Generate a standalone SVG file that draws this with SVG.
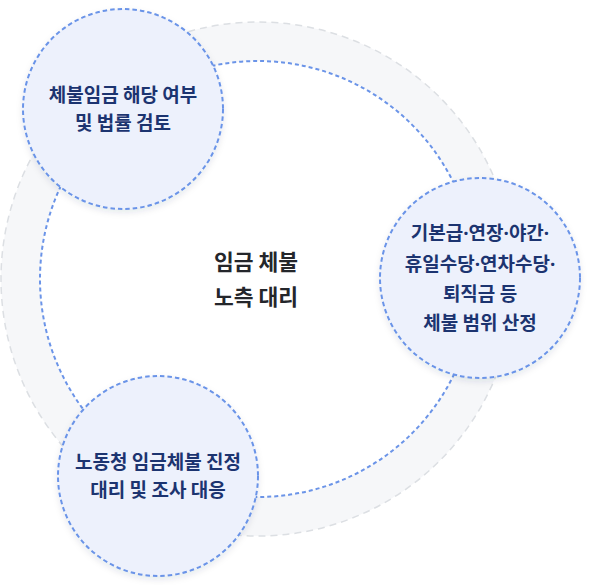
<svg xmlns="http://www.w3.org/2000/svg" width="589" height="585" viewBox="0 0 589 585">
  <defs>
    <filter id="sh" x="-20%" y="-20%" width="140%" height="150%">
      <feDropShadow dx="0" dy="3" stdDeviation="3" flood-color="#1e2a50" flood-opacity="0.10"/>
    </filter>
  </defs>
  <style>
    .band { fill: #f6f7f9; stroke: #dcdfe3; stroke-width: 1.5; stroke-dasharray: 7 5; }
    .inner { fill: #ffffff; stroke: #6b94e8; stroke-width: 2; stroke-dasharray: 4 3; }
    .node { fill: #edf1fc; stroke: #6b94e8; stroke-width: 2; stroke-dasharray: 4.5 3; filter: url(#sh); }
    .nt { font-family: "Noto Sans CJK KR", "Noto Sans", sans-serif; font-weight: 700; font-size: 19px; fill: #1c3470; text-anchor: middle; }
    .ct { font-family: "Noto Sans CJK KR", "Noto Sans", sans-serif; font-weight: 700; font-size: 21.5px; fill: #24262b; text-anchor: middle; }
    .d { font-family: "Noto Sans", sans-serif; }
  </style>
  <rect width="589" height="585" fill="#ffffff"/>
  <g id="connectors">
    <circle class="band" cx="258" cy="279" r="257"/>
    <circle class="inner" cx="258" cy="279" r="218"/>
  </g>
  <g id="center">
    <text class="ct" x="256" y="270">임금 체불</text>
    <text class="ct" x="256" y="305">노측 대리</text>
  </g>
  <g id="node-review">
    <circle class="node" cx="123" cy="109" r="100"/>
    <text class="nt" x="123" y="102">체불임금 해당 여부</text>
    <text class="nt" x="123" y="130">및 법률 검토</text>
  </g>
  <g id="node-scope">
    <circle class="node" cx="480" cy="278" r="100"/>
    <text class="nt" x="480" y="240">기본급<tspan class="d">·</tspan>연장<tspan class="d">·</tspan>야간<tspan class="d">·</tspan></text>
    <text class="nt" x="480" y="271">휴일수당<tspan class="d">·</tspan>연차수당<tspan class="d">·</tspan></text>
    <text class="nt" x="480" y="301">퇴직금 등</text>
    <text class="nt" x="480" y="330">체불 범위 산정</text>
  </g>
  <g id="node-petition">
    <circle class="node" cx="158" cy="476" r="100"/>
    <text class="nt" x="158" y="469">노동청 임금체불 진정</text>
    <text class="nt" x="158" y="497">대리 및 조사 대응</text>
  </g>
</svg>
